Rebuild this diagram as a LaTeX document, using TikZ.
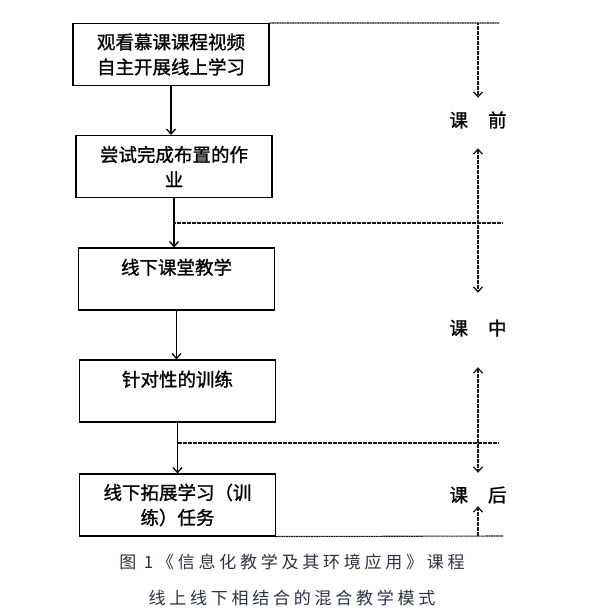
\documentclass[tikz,border=0pt]{standalone}
\usepackage{fontspec}
\newfontfamily\cjk[FakeBold=1.2]{Noto Sans CJK SC}
\newfontfamily\capfont[LetterSpace=22]{Noto Sans CJK SC}
\usepackage{tikz}
\usetikzlibrary{arrows.meta}
\definecolor{capgray}{RGB}{45,50,66}
\tikzset{
  stepbox/.style={draw,line width=1.1pt,minimum width=196pt,minimum height=62pt,
    inner sep=0pt,align=center,font=\cjk\fontsize{18.5}{25}\selectfont},
  barb/.tip={Straight Barb[length=5pt,width=9pt,line width=1.3pt]},
  flow/.style={-{barb},line width=1.3pt},
  sep/.style={line width=1.1pt,black!90,dash pattern=on 2pt off 0.5pt},
  stage/.style={font=\cjk\fontsize{18.5}{20}\selectfont,inner sep=0pt,minimum height=18pt},
  capt/.style={font=\capfont\fontsize{17}{20}\selectfont,text=capgray,inner sep=0pt},
}
\begin{document}
\begin{tikzpicture}[x=1pt,y=-1pt]
  \useasboundingbox (0,0) rectangle (600,613);
  % flow boxes
  \node[stepbox] (watch)  at (171,54.5)  {观看慕课课程视频\\自主开展线上学习};
  \node[stepbox] (try)    at (174,166.5) {尝试完成布置的作\\业};
  \node[stepbox] (class)  at (176.5,279) {线下课堂教学\\\mbox{}};
  \node[stepbox] (train)  at (177.5,391) {针对性的训练\\\mbox{}};
  \node[stepbox] (extend) at (177.5,505) {线下拓展学习（训\\练）任务};
  \draw[flow] (watch.south) -- (watch.south |- try.north);
  \draw[flow] (try.south) -- (try.south |- class.north);
  \draw[flow] (class.south) -- (class.south |- train.north);
  \draw[flow] (train.south) -- (train.south |- extend.north);
  % stage labels
  \node[stage] (before) at (478,120) {课\hspace{20pt}前};
  \node[stage] (during) at (478,328) {课\hspace{20pt}中};
  \node[stage] (after)  at (478,495) {课\hspace{20pt}后};
  % dividing lines
  \coordinate (d1) at (499,23);
  \coordinate (d2) at (502,223);
  \coordinate (d3) at (498,443);
  \coordinate (d4) at (503,536);
  \draw[sep] (watch.north east) -- (d1);
  \draw[sep] (try.south |- d2) -- (d2);
  \draw[sep] (train.south |- d3) -- (d3);
  \draw[sep] (extend.south east) -- (d4);
  % stage arrows
  \draw[sep,-{barb},shorten >=13pt] (before.north |- d1) -- (before.north);
  \draw[sep,{barb}-{barb},shorten <=19pt,shorten >=26pt] (before.south) -- (during.north);
  \draw[sep,{barb}-{barb},shorten <=30pt,shorten >=13pt] (during.south) -- (after.north);
  \draw[sep,-{barb},shorten >=2pt] (after.south |- d4) -- (after.south);
  % caption
  \node[capt] (cap1) at (292,562) {图 1《信息化教学及其环境应用》课程};
  \node[capt] (cap2) at (292,598) {线上线下相结合的混合教学模式};
\end{tikzpicture}
\end{document}
